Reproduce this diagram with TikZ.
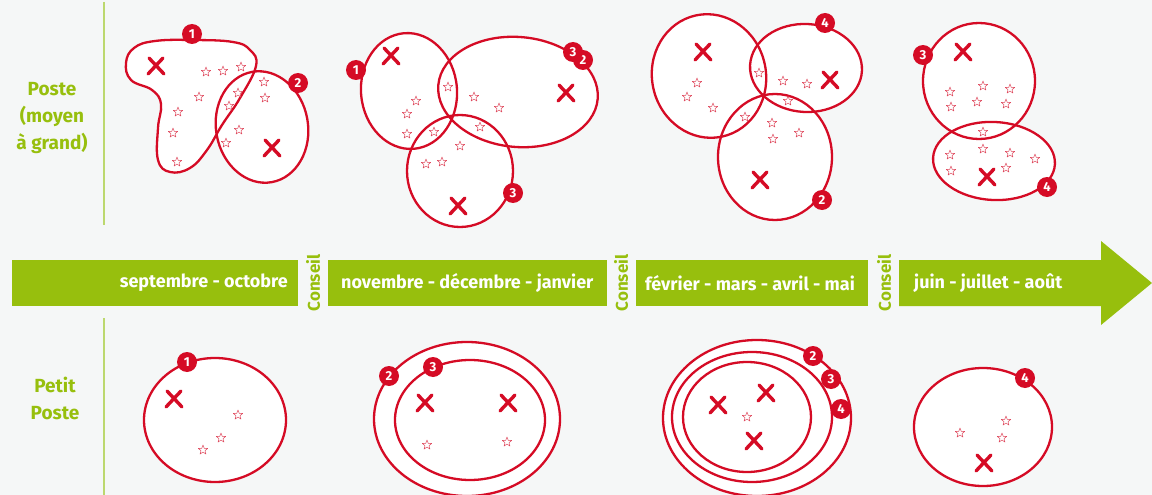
\documentclass[tikz,border=0pt]{standalone}
\usepackage{fontspec}
\setmainfont{Fira Sans}
\usepackage{xcolor}
\definecolor{leaf}{HTML}{97BF0D}
\definecolor{leaflight}{HTML}{BCD86E}
\definecolor{crimson}{HTML}{D50B25}
\definecolor{paper}{HTML}{F5F7F7}
\usepackage{tikz}
\usetikzlibrary{positioning}

\begin{document}
\begin{tikzpicture}[
		x=1pt, y=-1pt,
		ring/.style={
			draw=crimson,
			line width=2.3pt
		},
		zone/.style={
			fill=white
		},
		band/.style={
			fill=leaf
		},
		badge/.style={
			circle,
			fill=crimson,
			text=white,
			inner sep=0pt,
			minimum size=20pt,
			font=\bfseries\fontsize{13}{13}\selectfont
		},
		month/.style={
			text=white,
			inner sep=0pt,
			font=\bfseries\fontsize{18}{20}\selectfont
		},
		advice/.style={
			text=leaf,
			rotate=90,
			inner sep=0pt,
			font=\bfseries\fontsize{17}{19}\selectfont
		},
		rowlabel/.style={
			text=leaf,
			align=center,
			font=\bfseries\fontsize{19}{27}\selectfont
		},
		divider/.style={
			draw=leaflight,
			line width=2pt
		},
		pics/cross/.style={code={
			\draw[crimson, line width=3.4pt, line cap=round] (-7,-8) -- (8,8);
			\draw[crimson, line width=3.4pt, line cap=round] (7,-8) -- (-8,8);
		}},
		pics/spark/.style={code={
			\draw[crimson!75, line width=0.5pt, line join=round]
				(-90:5) -- (-54:2.1) -- (-18:5) -- (18:2.1) -- (54:5)
				-- (90:2.1) -- (126:5) -- (162:2.1) -- (198:5) -- (234:2.1) -- cycle;
		}}
	]
	
	% Canvas
	\fill[paper] (0,0) rectangle (1152,495);
	\useasboundingbox (0,0) rectangle (1152,495);
	
	% Row labels and dividers
	\node[rowlabel] (big) at (52,118) {Poste\\(moyen\\à grand)};
	\node[rowlabel] (small) at (55,398) {Petit\\Poste};
	\draw[divider] (104,2) -- (104,225);
	\draw[divider] (104,318) -- (104,495);
	
	% Timeline band
	\fill[band] (12,260) rectangle (298,306);
	\fill[band] (328,260) rectangle (607,306);
	\fill[band] (636,260) rectangle (868,306);
	\fill[band] (899,260) -- (1101,260) -- (1101,241) -- (1152,283)
		-- (1101,325) -- (1101,306) -- (899,306) -- cycle;
	
	\node[month, anchor=east] (m1) at (288,283) {septembre - octobre};
	\node[month, anchor=west] (m2) at (341,283) {novembre - décembre - janvier};
	\node[month, anchor=west] (m3) at (645,283) {février - mars - avril - mai};
	\node[month, anchor=west] (m4) at (914,283) {juin - juillet - août};
	
	\node[advice] (c1) at (313,283) {Conseil};
	\node[advice] (c2) at (621,283) {Conseil};
	\node[advice] (c3) at (884,283) {Conseil};
	
	% Top row: areas (fills first, then outlines)
	\def\topovals{262/127/46/56/10, 409/91/48/58/5, 518/92/80/55/-5,
		460/171/53/56/0, 709/76/57/62/12, 806/68/56/44/-3,
		775/157/57/63/0, 979/81/56/58/0, 994/161/61/39/-3}
	
	\path[zone] plot[smooth cycle, tension=0.7] coordinates {
		(134,48) (155,41) (193,40) (233,42) (250,50) (256,66) (240,98)
		(222,125) (207,150) (190,168) (170,172) (158,160) (158,128)
		(161,104) (152,90) (131,80) (126,63)};
	\foreach \cx/\cy/\rx/\ry/\tilt in \topovals
		\path[zone, rotate around={\tilt:(\cx,\cy)}] (\cx,\cy) ellipse [x radius=\rx, y radius=\ry];
	
	\draw[ring] plot[smooth cycle, tension=0.7] coordinates {
		(134,48) (155,41) (193,40) (233,42) (250,50) (256,66) (240,98)
		(222,125) (207,150) (190,168) (170,172) (158,160) (158,128)
		(161,104) (152,90) (131,80) (126,63)};
	\foreach \cx/\cy/\rx/\ry/\tilt in \topovals
		\draw[ring, rotate around={\tilt:(\cx,\cy)}] (\cx,\cy) ellipse [x radius=\rx, y radius=\ry];
	
	% Bottom row: nested areas
	\draw[ring, zone] (215,420) ellipse [x radius=71, y radius=62];
	\draw[ring, zone] (467,419) ellipse [x radius=93, y radius=77];
	\draw[ring, zone] (470,420) ellipse [x radius=75, y radius=60];
	\draw[ring, zone] (757,418) ellipse [x radius=94, y radius=78];
	\draw[ring, zone] (752,417) ellipse [x radius=80, y radius=65];
	\draw[ring, zone] (747,417) ellipse [x radius=64, y radius=55];
	\draw[ring, zone] (983,427) ellipse [x radius=69, y radius=59];
	
	% Sampling points
	\foreach \p in {(206,72),(223,71),(241,67),(199,97),(178,112),(173,133),
		(177,162),(238,93),(229,106),(239,130),(226,143),(264,82),(265,98),
		(448,87),(416,101),(407,114),(407,134),(434,132),(474,97),(499,108),
		(480,127),(460,146),(442,162),(426,164),
		(697,83),(687,97),(713,108),(759,73),(783,81),(807,84),(788,101),
		(745,117),(772,123),(773,139),(799,133),
		(950,92),(951,107),(983,86),(977,102),(1010,89),(1006,104),(983,132),
		(950,155),(951,171),(983,149),(1010,153),(1006,168),(1035,159),
		(238,415),(221,438),(203,450),(427,445),(507,442),(747,417),
		(960,433),(1006,421),(1002,438)}
		\pic at \p {spark};
	
	% Plots
	\foreach \p in {(156,66),(272,148),(391,56),(566,93),(458,206),
		(703,52),(830,80),(760,180),(963,52),(987,177),
		(174,399),(425,403),(508,403),(718,405),(766,393),(754,441),(984,463)}
		\pic at \p {cross};
	
	% Badges
	\node[badge] (t1a) at (192,34) {1};
	\node[badge] (t1b) at (298,83) {2};
	\node[badge] (t2a) at (356,70) {1};
	\node[badge] (t2b) at (583,60) {2};
	\node[badge] (t2c) at (573,52) {3};
	\node[badge] (t2d) at (513,193) {3};
	\node[badge] (t3a) at (825,23) {4};
	\node[badge] (t3b) at (822,200) {2};
	\node[badge] (t4a) at (923,55) {3};
	\node[badge] (t4b) at (1047,187) {4};
	
	\node[badge] (s1a) at (187,362) {1};
	\node[badge] (s2a) at (389,376) {2};
	\node[badge] (s2b) at (433,367) {3};
	\node[badge] (s3a) at (813,356) {2};
	\node[badge] (s3b) at (831,379) {3};
	\node[badge] (s3c) at (841,409) {4};
	\node[badge] (s4a) at (1025,378) {4};
	
\end{tikzpicture}
\end{document}
